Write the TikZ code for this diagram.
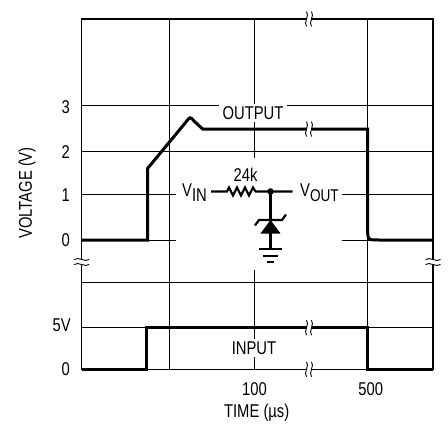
\documentclass[tikz,border=0pt]{standalone}
\usepackage{fontspec}
\setmainfont{Liberation Sans}[FakeStretch=0.8]
\usetikzlibrary{positioning}

\tikzset{
  gridline/.style={line width=0.9pt},
  frameline/.style={line width=1.3pt},
  wave/.style={line width=3pt, line join=miter},
  wire/.style={line width=2.2pt},
  lbl/.style={font=\fontsize{18.5}{18.5}\selectfont, inner sep=1pt},
  gaplbl/.style={lbl, fill=white, inner xsep=3.5pt, inner ysep=2.5pt},
  brk/.pic={
    \fill[white] (-2.5,-7.5) rectangle (2.5,7.5);
    \draw[line width=0.9pt] (-2.5,-7.5) .. controls (0.8,-3.5) and (-5.8,3.5) .. (-2.5,7.5);
    \draw[line width=0.9pt] (2.5,-7.5) .. controls (5.8,-3.5) and (-0.8,3.5) .. (2.5,7.5);
  }
}

\begin{document}
\begin{tikzpicture}[x=1pt, y=-1pt]
  \useasboundingbox (0,0) rectangle (448,424);

  % grid
  \foreach \gx in {169.3, 254.5, 367.7}
    \draw[gridline] (\gx,19) -- (\gx,369.3);
  \foreach \gy in {105.7, 151.7, 194.3, 240, 282, 327.7}
    \draw[gridline] (81.7,\gy) -- (433,\gy);

  % frame
  \draw[frameline] (81.7,19) rectangle (433,369.3);

  % room for the circuit
  \fill[white] (176,158) rectangle (342,270);

  % output waveform
  \draw[wave] (81.7,240) -- (147.7,240) -- (147.7,168.3) -- (186,122)
    .. controls (190,116.5) .. (194.5,121.5) -- (202.7,129) -- (367.7,129)
    -- (367.7,232) .. controls (368,240) .. (380,240) -- (433,240);

  % input waveform
  \draw[wave] (81.7,369.3) -- (146,369.3) -- (146,327.7) -- (367.7,327.7)
    -- (367.7,369.3) -- (433,369.3);

  % axis breaks
  \pic at (309,19) {brk};
  \pic at (309,129) {brk};
  \pic at (309,327.7) {brk};
  \pic at (309,369.3) {brk};
  \pic[rotate=90] at (81.7,262) {brk};
  \pic[rotate=90] at (433,262) {brk};

  % labels
  \node[gaplbl] (output) at (253,113) {OUTPUT};
  \node[gaplbl] (input) at (254,348) {INPUT};
  \node[lbl, anchor=east] (y3) at (71,107) {3};
  \node[lbl, anchor=east] (y2) at (71,151.7) {2};
  \node[lbl, anchor=east] (y1) at (71,195) {1};
  \node[lbl, anchor=east] (y0) at (71,240.5) {0};
  \node[lbl, anchor=east] (y5v) at (72,325) {5V};
  \node[lbl, anchor=east] (yb0) at (71,369) {0};
  \node[lbl, rotate=90] (ylabel) at (27,193) {VOLTAGE (V)};
  \node[lbl] (x100) at (254.5,389) {100};
  \node[lbl] (x500) at (370.7,389) {500};
  \node[lbl] (xlabel) at (256.7,413) {TIME (µs)};

  % circuit
  \node[lbl, inner sep=0pt, anchor=base west] (vin) at (182,196.7)
    {V\raisebox{-4.5pt}{IN}};
  \node[lbl, inner sep=0pt, anchor=base west] (vout) at (300,196.7)
    {V\raisebox{-4.5pt}{\fontsize{17}{17}\selectfont OUT}};
  \node[lbl] (rval) at (245.5,175) {24k};
  \coordinate (rin) at (211,191.5);
  \coordinate (junc) at (270.5,191.5);
  \coordinate (rout) at (292.5,191.5);
  \draw[wire, line join=miter] (rin) -- (227,191.5) -- (229,187.5) -- (233,195.5)
    -- (237,187.5) -- (241,195.5) -- (245,187.5) -- (249,195.5) -- (253,187.5)
    -- (255.5,191.5) -- (junc) -- (rout);
  \fill (junc) circle (3.3);
  % zener
  \draw[wire] (junc) -- (270.5,220);
  \draw[wire] (255,225.5) -- (259,220) -- (282,220) -- (286,214.5);
  \fill (270.5,220) -- (280.5,233.5) -- (260.5,233.5) -- cycle;
  \draw[wire] (270.5,233) -- (270.5,249.3);
  % ground
  \draw[wire] (259,249.3) -- (282,249.3);
  \draw[wire] (263,255.7) -- (278,255.7);
  \draw[wire] (267,261.7) -- (274,261.7);
\end{tikzpicture}
\end{document}
